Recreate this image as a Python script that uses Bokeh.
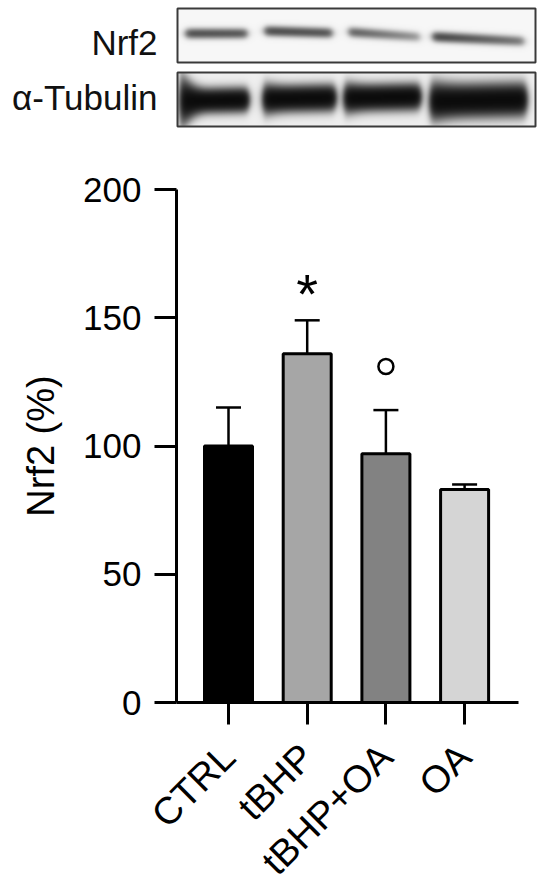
import numpy as np
from bokeh.plotting import figure
from bokeh.models import Range1d, ColumnDataSource, FixedTicker, Whisker, TeeHead
from bokeh.embed import file_html
from bokeh.resources import INLINE
from bokeh.core.properties import value

# ---------------- data ----------------
categories = ["CTRL", "tBHP", "tBHP+OA", "OA"]
means = [100, 136, 97, 83]
sems = [15, 13, 17, 2]
bar_colors = ["#000000", "#a6a6a6", "#828282", "#d5d5d5"]
y_ticks = [0, 50, 100, 150, 200]
sig_marks = ["", "*", "°", ""]
y_label = "Nrf2 (%)"
blot_labels = ["Nrf2", "α-Tubulin"]
nrf2_density = [0.78, 0.8, 0.64, 0.86]
tubulin_density = [1.0, 1.0, 1.0, 1.0]

FONT = "Liberation Sans"

# ---------------- layout (canvas pixels) ----------------
W, H = 550, 885
PX_PER_Y = 2.565           # px per % unit
PX_PER_X = 78.7            # px per category step
X0 = 228                   # canvas x of first category centre
Y0 = 702                   # canvas y of value 0
AXIS_X = 176               # canvas x of the y axis
AXIS_END = 518             # canvas x where the x axis ends

x_start = -X0 / PX_PER_X
x_end = x_start + W / PX_PER_X
y_start = -(H - Y0) / PX_PER_Y
y_end = Y0 / PX_PER_Y

p = figure(width=W, height=H, x_range=Range1d(x_start, x_end), y_range=Range1d(y_start, y_end),
           output_backend="svg", toolbar_location=None, min_border=0)
p.title.visible = False
p.grid.visible = False
p.outline_line_color = None
p.background_fill_color = "white"
p.border_fill_color = "white"
p.extra_x_ranges = {"px": Range1d(0, W)}
p.extra_y_ranges = {"py": Range1d(-H, 0)}   # data = -canvas_y


# ---------------- western blot panel ----------------
def band_image(x0, x1, y_top, y_bot, bg, bands, sat):
    w = int(round(x1 - x0))
    h = int(round(y_bot - y_top))
    xs = x0 + np.arange(w) + 0.5
    ys = y_bot - (np.arange(h) + 0.5)  # row 0 = bottom
    X, Y = np.meshgrid(xs, ys)
    dark = np.zeros_like(X)
    for (cx, hw, cy, sy, d, tilt, fade, bulge) in bands:
        px = 0.5 * (np.tanh((X - (cx - hw)) / 4.0) - np.tanh((X - (cx + hw)) / 4.0))
        rel = (X - cx) / hw
        sy_loc = sy * (1 + bulge * np.clip(-rel, 0, 1) ** 3)
        py = np.exp(-((Y - cy - tilt * (X - cx)) ** 2) / (2 * sy_loc ** 2))
        dens = d * (1 - fade * np.clip((rel + 1) / 2, 0, 1))
        dark += dens * px * py
    val = bg * np.exp(-sat * dark)
    g = (np.clip(val, 0, 1) * 255).astype(np.uint8)
    rgba = np.empty((h, w, 4), dtype=np.uint8)
    rgba[..., 0] = g
    rgba[..., 1] = g
    rgba[..., 2] = g
    rgba[..., 3] = 255
    return rgba.view(np.uint32).reshape(h, w), w, h


nrf2_geo = dict(cx=[216, 298, 384, 478], hw=[30, 33, 35, 45], cy=[33, 31.5, 34, 38.5],
                tilt=[0.0, 0.03, 0.07, 0.05], fade=[0.1, 0.1, 0.5, 0.45])
tub_geo = dict(cx=[214, 299, 382, 478], hw=[33, 35, 37, 47], cy=[100, 98, 97, 100],
               sy=[7.0, 7.5, 7.5, 9.5], bulge=[1.2, 0.2, 0.2, 0.2])

nrf2_bands = [(nrf2_geo["cx"][i], nrf2_geo["hw"][i], nrf2_geo["cy"][i], 3.3, d,
               nrf2_geo["tilt"][i], nrf2_geo["fade"][i], 0.0)
              for i, d in enumerate(nrf2_density)]
tub_bands = [(tub_geo["cx"][i], tub_geo["hw"][i], tub_geo["cy"][i], tub_geo["sy"][i], d,
              -0.02, 0.0, tub_geo["bulge"][i])
             for i, d in enumerate(tubulin_density)]

box_left, box_right = 177, 535
box_rows = [(8, 62), (72, 126)]
imgs = [band_image(box_left, box_right, 8, 62, 0.97, nrf2_bands, 1.4),
        band_image(box_left, box_right, 72, 126, 0.94, tub_bands, 3.0)]
for (img, w, h), (yt, yb) in zip(imgs, box_rows):
    p.image_rgba(image=[img], x=box_left, y=-yb, dw=w, dh=h,
                 x_range_name="px", y_range_name="py")
    p.quad(left=box_left, right=box_right, bottom=-yb, top=-yt,
           fill_alpha=0, line_color="#3a3a3a", line_width=2,
           x_range_name="px", y_range_name="py")

p.text(x=[157, 157], y=[-42, -97], text=blot_labels, x_range_name="px", y_range_name="py",
       text_align="right", text_baseline="middle",
       text_font=value(FONT), text_font_size="35px", text_color="#111111")

# ---------------- bar chart ----------------
x_pos = list(range(len(categories)))
src = ColumnDataSource(dict(
    x=x_pos, mean=means, color=bar_colors,
    upper=[m + s for m, s in zip(means, sems)],
    lower=[m - s for m, s in zip(means, sems)],
))

p.vbar(x="x", top="mean", width=0.61, fill_color="color", line_color="black",
       line_width=3, source=src)

wh = Whisker(base="x", upper="upper", lower="lower", source=src, line_width=2.5,
             line_color="black",
             upper_head=TeeHead(size=25, line_width=2.5, line_color="black"),
             lower_head=TeeHead(size=25, line_width=2.5, line_color="black"))
p.add_layout(wh)

star_x = [x for x, m in zip(x_pos, sig_marks) if m == "*"]
star_y = [m + s + 10.5 for m, s, k in zip(means, sems, sig_marks) if k == "*"]
p.text(x=star_x, y=star_y, text=["*"] * len(star_x), text_align="center",
       text_baseline="alphabetic", text_font=value(FONT), text_font_size="56px",
       text_color="black")
circ_x = [x for x, m in zip(x_pos, sig_marks) if m == "°"]
circ_y = [m + s + 17 for m, s, k in zip(means, sems, sig_marks) if k == "°"]
p.scatter(x=circ_x, y=circ_y, marker="circle", size=15, fill_color="white",
          line_color="black", line_width=2.5)

# y axis title (centred on the 0-200 axis)
p.text(x=[40], y=[(y_ticks[0] + y_ticks[-1]) / 2], text=[y_label], angle=np.pi / 2,
       x_range_name="px", text_align="center", text_baseline="middle",
       text_font=value(FONT), text_font_size="38px", text_color="black")

# ---------------- axes ----------------
for ax in (p.xaxis[0], p.yaxis[0]):
    ax.axis_line_width = 3
    ax.major_tick_line_width = 3
    ax.major_tick_out = 22
    ax.major_tick_in = 0
    ax.minor_tick_line_color = None
    ax.major_label_text_font = FONT
    ax.major_label_text_color = "black"

p.yaxis.fixed_location = (AXIS_X - X0) / PX_PER_X
p.yaxis.bounds = (y_ticks[0], y_ticks[-1])
p.yaxis.ticker = FixedTicker(ticks=y_ticks)
p.yaxis.major_label_standoff = 13
p.yaxis.major_label_text_font_size = "35px"

p.xaxis.fixed_location = 0
p.xaxis.bounds = ((AXIS_X - X0) / PX_PER_X, (AXIS_END - X0) / PX_PER_X)
p.xaxis.ticker = FixedTicker(ticks=x_pos)
p.xaxis.major_label_overrides = {i: c for i, c in zip(x_pos, categories)}
p.xaxis.major_label_orientation = np.pi / 4
p.xaxis.major_label_standoff = 26
p.xaxis.major_label_text_font_size = "38px"

open("out.html", "w").write(file_html(p, INLINE))
